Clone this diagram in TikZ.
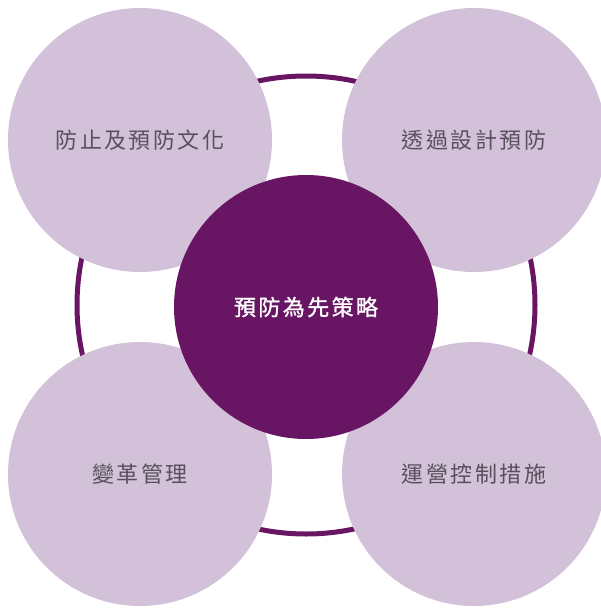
\documentclass[tikz,border=0pt]{standalone}
\usepackage{fontspec}
\newfontfamily\cjk[LetterSpace=11]{Noto Sans CJK TC}
\newfontfamily\cjkbold[LetterSpace=11,FakeBold=1.2]{Noto Sans CJK TC}
\definecolor{lilac}{RGB}{210,193,216}
\definecolor{plum}{RGB}{104,21,99}
\definecolor{txtgray}{RGB}{88,80,92}
\begin{document}
\begin{tikzpicture}[x=1pt,y=-1pt,
        ring/.style={draw=plum,line width=5pt},
        part/.style={circle,fill=lilac,minimum size=264pt,inner sep=0pt,
            font=\cjk\fontsize{22}{26}\selectfont,text=txtgray},
        core/.style={circle,fill=plum,minimum size=264pt,inner sep=0pt,
            font=\cjkbold\fontsize{22}{26}\selectfont,text=white}]
\useasboundingbox (0,0) rectangle (601,608);

\draw[ring] (306,305) circle (229pt);

\node[part] (culture) at (140,140) {防止及預防文化};
\node[part] (design) at (474,140) {透過設計預防};
\node[part] (change) at (140,474) {變革管理};
\node[part] (control) at (474,474) {運營控制措施};

\node[core] (strategy) at (306,307) {預防為先策略};
\end{tikzpicture}
\end{document}
